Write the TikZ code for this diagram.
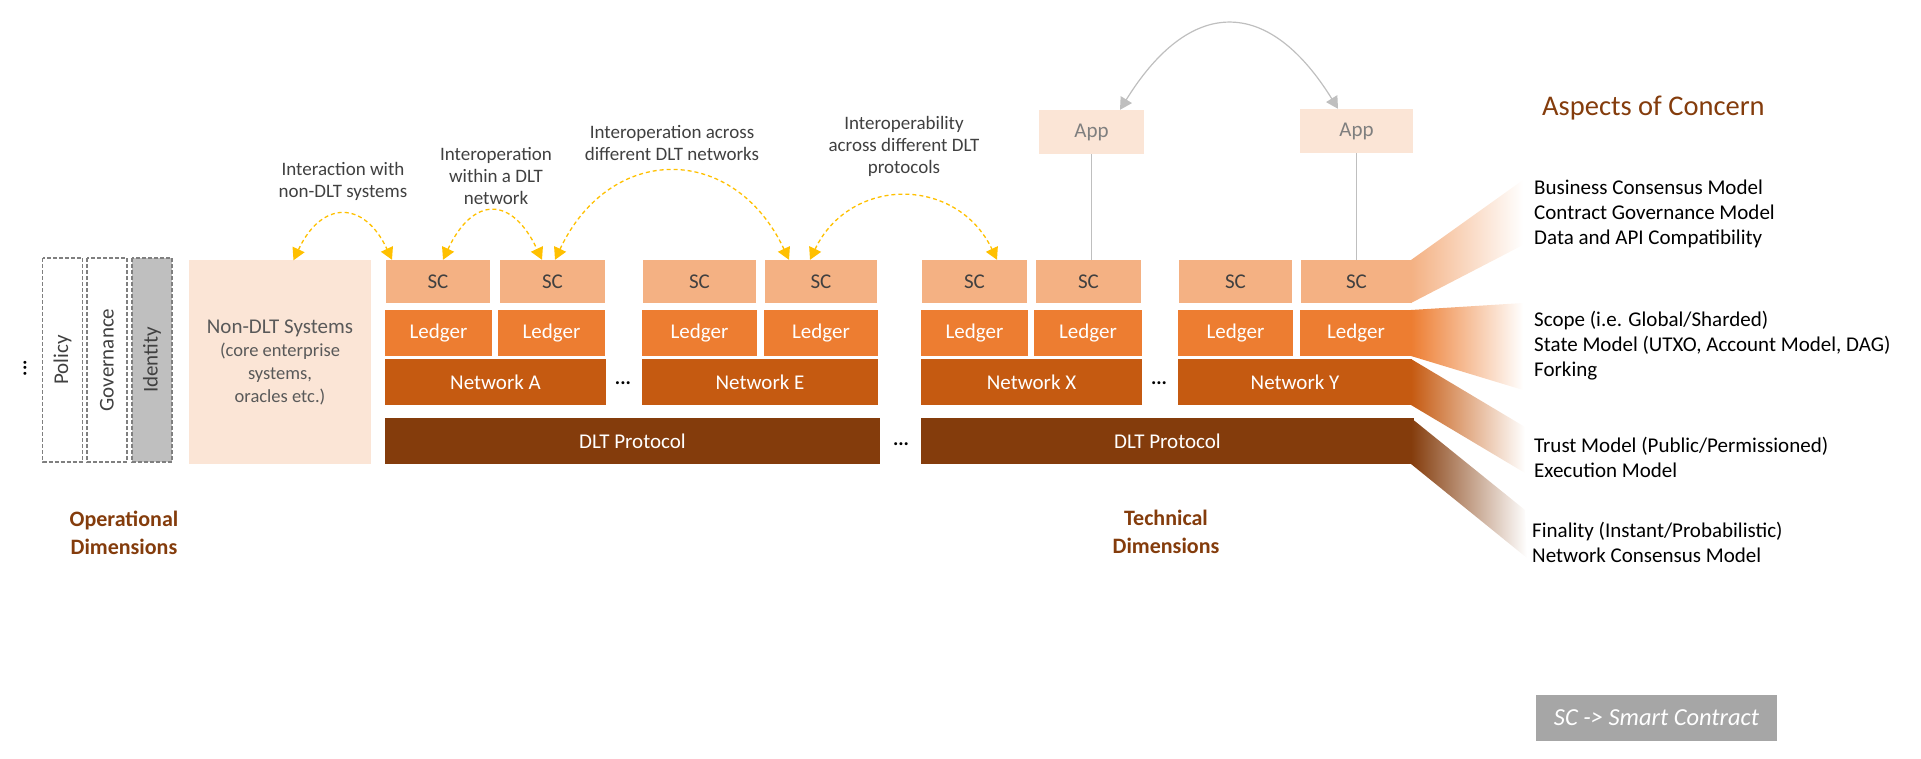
\documentclass[tikz,border=0pt]{standalone}
\usepackage{fontspec}
\setmainfont{Carlito}
\usetikzlibrary{arrows.meta}
\definecolor{scfill}{HTML}{F4B183}
\definecolor{ledgerfill}{HTML}{ED7D31}
\definecolor{netfill}{HTML}{C55A11}
\definecolor{protofill}{HTML}{843C0C}
\definecolor{softfill}{HTML}{FBE5D6}
\definecolor{darktext}{HTML}{404040}
\definecolor{midtext}{HTML}{595959}
\definecolor{apptext}{HTML}{7F7F7F}
\definecolor{linkyellow}{HTML}{FFC000}
\definecolor{linkgray}{HTML}{BFBFBF}
\definecolor{dimgray}{HTML}{7F7F7F}
\definecolor{notegray}{HTML}{A6A6A6}
\begin{document}
\begin{tikzpicture}
        [x=1pt,y=-1pt,
        every node/.style={inner sep=0pt,font=\fontsize{21}{25}\selectfont},
        scbox/.style={fill=scfill,text=darktext,minimum height=43pt},
        ledgerbox/.style={fill=ledgerfill,text=white,minimum height=46pt},
        netbox/.style={fill=netfill,text=white,minimum height=46pt},
        protobox/.style={fill=protofill,text=white,minimum height=46pt},
        dimbox/.style={draw=dimgray,line width=1.5pt,dash pattern=on 4pt off 2pt,text=darktext,rotate=90,minimum width=204pt,minimum height=40pt},
        appbox/.style={fill=softfill,text=apptext,minimum height=44pt},
        topic/.style={text=darktext,align=center,font=\fontsize{19}{22}\selectfont},
        aspect/.style={anchor=west,align=left,font=\fontsize{21}{25}\selectfont},
        dimtitle/.style={text=protofill,align=center,font=\bfseries\fontsize{22}{28}\selectfont},
        ellip/.style={font=\bfseries\fontsize{20}{24}\selectfont},
        link/.style={draw=linkyellow,line width=1.3pt,dash pattern=on 4pt off 3pt,{Triangle[length=12pt,width=13pt]}-{Triangle[length=12pt,width=13pt]}},
        applink/.style={draw=linkgray,line width=1.2pt}]
        \useasboundingbox (0,0) rectangle (1921,759);

        % operational dimensions
        \node[ellip,rotate=90]   (more)   at (25,368)      {...};
        \node[dimbox]            (policy) at (62.5,360)    {Policy};
        \node[dimbox]            (gov)    at (107,360)     {Governance};
        \node[dimbox,fill=linkgray] (ident) at (152,360)   {Identity};
        \node[fill=softfill,text=midtext,minimum width=182pt,minimum height=203pt,align=center,font=\fontsize{18.5}{23}\selectfont]
                                 (nondlt) at (280,362)     {{\fontsize{21}{26}\selectfont Non-DLT Systems}\\(core enterprise\\systems,\\oracles etc.)};
        \node[dimtitle]          (opdim)  at (124,533)     {Operational\\Dimensions};

        % SC
        \node[scbox,minimum width=104pt] (sc1) at (438,281.5)    {SC};
        \node[scbox,minimum width=105pt] (sc2) at (552.5,281.5)  {SC};
        \node[scbox,minimum width=113pt] (sc3) at (699.5,281.5)  {SC};
        \node[scbox,minimum width=112pt] (sc4) at (821,281.5)    {SC};
        \node[scbox,minimum width=105pt] (sc5) at (974.5,281.5)  {SC};
        \node[scbox,minimum width=105pt] (sc6) at (1088.5,281.5) {SC};
        \node[scbox,minimum width=113pt] (sc7) at (1235.5,281.5) {SC};
        \node[scbox,minimum width=111pt] (sc8) at (1356.5,281.5) {SC};

        % Ledger
        \node[ledgerbox,minimum width=107pt] (led1) at (438.5,333)  {Ledger};
        \node[ledgerbox,minimum width=107pt] (led2) at (551.5,333)  {Ledger};
        \node[ledgerbox,minimum width=115pt] (led3) at (699.5,333)  {Ledger};
        \node[ledgerbox,minimum width=114pt] (led4) at (821,333)    {Ledger};
        \node[ledgerbox,minimum width=107pt] (led5) at (974.5,333)  {Ledger};
        \node[ledgerbox,minimum width=108pt] (led6) at (1088,333)   {Ledger};
        \node[ledgerbox,minimum width=115pt] (led7) at (1235.5,333) {Ledger};
        \node[ledgerbox,minimum width=112pt] (led8) at (1356,333)   {Ledger};

        % Network
        \node[netbox,minimum width=221pt] (netA) at (495.5,382)  {Network A};
        \node[netbox,minimum width=236pt] (netE) at (760,382)    {Network E};
        \node[netbox,minimum width=221pt] (netX) at (1031.5,382) {Network X};
        \node[netbox,minimum width=234pt] (netY) at (1295,382)   {Network Y};
        \node[ellip] (dotsAE) at (623,383)  {...};
        \node[ellip] (dotsXY) at (1159,383) {...};

        % DLT protocol
        \node[protobox,minimum width=495pt] (proto1) at (632.5,441)  {DLT Protocol};
        \node[protobox,minimum width=493pt] (proto2) at (1167.5,441) {DLT Protocol};
        \node[ellip] (dotsP) at (901,444) {...};
        \node[dimtitle] (techdim) at (1166,532) {Technical\\Dimensions};

        % apps
        \node[appbox,minimum width=105pt] (app1) at (1091.5,132) {App};
        \node[appbox,minimum width=113pt] (app2) at (1356.5,131) {App};
        \draw[applink] (app1.south) -- (app1.south |- sc6.north);
        \draw[applink] (app2.south) -- (app2.south |- sc8.north);
        \draw[applink,{Triangle[length=12pt,width=13pt]}-{Triangle[length=12pt,width=13pt]}]
        ([xshift=28.5pt]app1.north) .. controls +(70,-113) and +(-70,-113) .. ([xshift=-18.5pt]app2.north);

        % kinds of interoperation
        \node[topic] (lblsys)   at (343,181)   {Interaction with\\non-DLT systems};
        \node[topic] (lblnet)   at (496,176)   {Interoperation\\within a DLT\\network};
        \node[topic] (lblcross) at (672,143.5) {Interoperation across\\different DLT networks};
        \node[topic] (lblproto) at (904,146)   {Interoperability\\across different DLT\\protocols};
        \draw[link] ([xshift=13.5pt]nondlt.north) .. controls +(28,-60) and +(-28,-60) .. ([xshift=-46pt]sc1.north);
        \draw[link] ([xshift=5pt]sc1.north) .. controls +(30,-64) and +(-30,-64) .. ([xshift=-10.5pt]sc2.north);
        \draw[link] ([xshift=2.5pt]sc2.north) .. controls +(55,-117) and +(-55,-117) .. ([xshift=-32pt]sc4.north);
        \draw[link] ([xshift=-11pt]sc4.north) .. controls +(40,-84) and +(-40,-84) .. ([xshift=22.5pt]sc5.north);

        % aspects of concern
        \shade[left color=scfill,right color=white]     (1411,260) -- (1523,180) -- (1523,245) -- (1411,303) -- cycle;
        \shade[left color=ledgerfill,right color=white] (1411,310) -- (1523,303) -- (1523,390) -- (1411,356) -- cycle;
        \shade[left color=netfill,right color=white]    (1411,359) -- (1525,427) -- (1525,473) -- (1411,405) -- cycle;
        \shade[left color=protofill,right color=white]  (1411,418) -- (1525,510) -- (1527,558) -- (1411,464) -- cycle;
        \node[anchor=west,text=protofill,font=\fontsize{28.5}{32}\selectfont] (aoc) at (1542,108) {Aspects of Concern};
        \node[aspect] (asc)    at (1534,214)   {Business Consensus Model\\Contract Governance Model\\Data and API Compatibility};
        \node[aspect] (aled)   at (1534,346)   {Scope (i.e. Global/Sharded)\\State Model (UTXO, Account Model, DAG)\\Forking};
        \node[aspect] (anet)   at (1534,457)   {Trust Model (Public/Permissioned)\\Execution Model};
        \node[aspect] (aproto) at (1532,542)   {Finality (Instant/Probabilistic)\\Network Consensus Model};

        % legend
        \node[fill=notegray,text=white,minimum width=241pt,minimum height=46pt,font=\itshape\fontsize{24.5}{28}\selectfont]
                                 (note) at (1656.5,718) {SC -> Smart Contract};
\end{tikzpicture}
\end{document}
